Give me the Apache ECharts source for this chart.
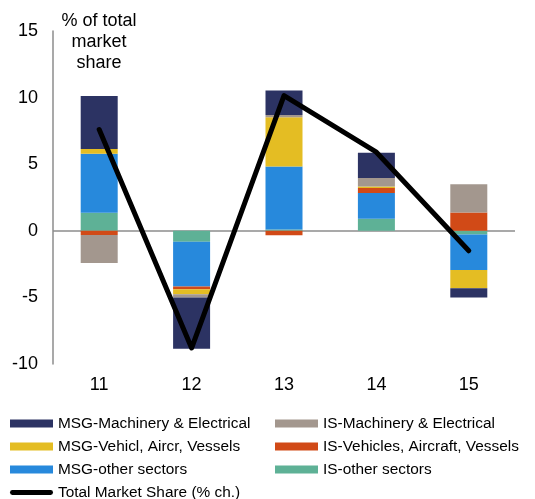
<!DOCTYPE html>
<html>
<head>
<meta charset="utf-8">
<script src="https://cdn.jsdelivr.net/npm/echarts@6/dist/echarts.min.js"></script>
<style>
  html, body { margin: 0; padding: 0; background: #fff; }
  #chart { width: 535px; height: 499px; }
</style>
</head>
<body>
<div id="chart"></div>
<script>
// periods on the x axis
const categories = ['11', '12', '13', '14', '15'];

// contributions, % points (stack order: closest to zero first)
const isOther = [1.36, -0.83, 0.10, 0.90, -0.27];
const msgOther = [4.43, -3.35, 4.73, 1.93, -2.68];
const isVehicles = [-0.32, -0.20, -0.33, 0.38, 1.38];
const msgVehicles = [0.35, -0.38, 3.69, 0.12, -1.37];
const isMachinery = [-2.10, -0.25, 0.18, 0.63, 2.12];
const msgMachinery = [3.98, -3.84, 1.83, 1.90, -0.68];

// total market share, % change
const totalShare = [7.6, -8.8, 10.15, 5.9, -1.5];

// y axis ticks, only zero gets a line
const yTicks = [-10, -5, 0, 5, 10, 15];

const colors = {
  msgMach: '#2c3363',
  isMach: '#a3978e',
  msgVeh: '#e4bd23',
  isVeh: '#d14a17',
  msgOther: '#2789dc',
  isOther: '#5eb196'
};

const chart = echarts.init(document.getElementById('chart'), null, { renderer: 'canvas' });

function barSeries(name, data, color) {
  return {
    name: name,
    type: 'bar',
    stack: 'contrib',
    barWidth: 37,
    data: data,
    itemStyle: { color: color },
    emphasis: { disabled: true }
  };
}

const font = 'Liberation Sans, Arial, sans-serif';
const legendText = { fontSize: 15.4, color: '#000', fontFamily: font };
// thick line with round ends for the total
const lineIcon = 'path://M2.5,0 L42.5,0 A2.5,2.5 0 0 1 42.5,5 L2.5,5 A2.5,2.5 0 0 1 2.5,0 Z';

const option = {
  animation: false,
  textStyle: { fontFamily: font },
  grid: { left: 53, right: 20, top: 31, bottom: 135 },
  graphic: [{
    type: 'text',
    x: 99, y: 11,
    style: {
      text: '% of total\nmarket\nshare',
      textAlign: 'center',
      fontSize: 18,
      lineHeight: 21,
      fill: '#000',
      fontFamily: font
    }
  }],
  legend: [{
    orient: 'vertical',
    left: 10,
    top: 416,
    padding: 0,
    height: 90,
    icon: 'rect',
    itemWidth: 43,
    itemHeight: 8,
    itemGap: 8,
    textStyle: legendText,
    data: ['MSG-Machinery & Electrical', 'MSG-Vehicl, Aircr, Vessels', 'MSG-other sectors',
      { name: 'Total Market Share (% ch.)', icon: lineIcon, itemStyle: { color: '#000' } }]
  }, {
    orient: 'vertical',
    left: 275,
    top: 416,
    padding: 0,
    icon: 'rect',
    itemWidth: 43,
    itemHeight: 8,
    itemGap: 8,
    textStyle: legendText,
    data: ['IS-Machinery & Electrical', 'IS-Vehicles, Aircraft, Vessels', 'IS-other sectors']
  }],
  xAxis: {
    type: 'category',
    data: categories,
    axisLine: { show: false, onZero: false },
    axisTick: { show: false },
    axisLabel: { fontSize: 18, color: '#000', margin: 12 }
  },
  yAxis: {
    type: 'value',
    min: yTicks[0],
    max: yTicks[yTicks.length - 1],
    interval: 5,
    axisLine: { show: true, lineStyle: { color: '#8c8c8c', width: 1.5 } },
    axisTick: { show: false },
    splitLine: {
      show: true,
      lineStyle: {
        width: 1.5,
        color: yTicks.map(v => (v === 0 ? '#8c8c8c' : 'rgba(0,0,0,0)'))
      }
    },
    axisLabel: { fontSize: 18, color: '#000', margin: 15 }
  },
  series: [
    barSeries('IS-other sectors', isOther, colors.isOther),
    barSeries('MSG-other sectors', msgOther, colors.msgOther),
    barSeries('IS-Vehicles, Aircraft, Vessels', isVehicles, colors.isVeh),
    barSeries('MSG-Vehicl, Aircr, Vessels', msgVehicles, colors.msgVeh),
    barSeries('IS-Machinery & Electrical', isMachinery, colors.isMach),
    barSeries('MSG-Machinery & Electrical', msgMachinery, colors.msgMach),
    {
      name: 'Total Market Share (% ch.)',
      type: 'line',
      data: totalShare,
      symbol: 'none',
      z: 10,
      lineStyle: { color: '#000', width: 5, cap: 'round', join: 'round' },
      itemStyle: { color: '#000' },
      emphasis: { disabled: true }
    }
  ]
};

chart.setOption(option);
</script>
</body>
</html>
